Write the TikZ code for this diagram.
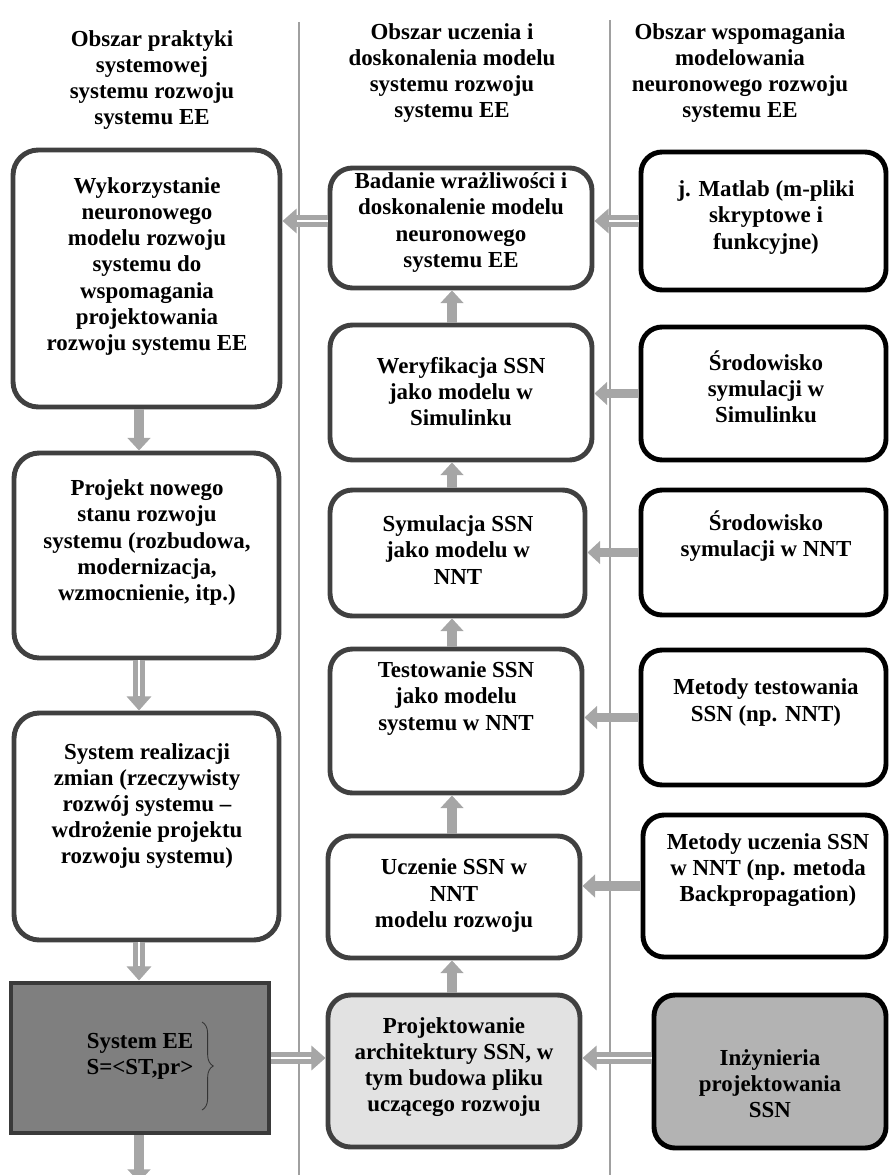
\documentclass[tikz,border=0pt]{standalone}
\usepackage{fontspec}
\setmainfont{Liberation Serif}
\usetikzlibrary{calc, fit, arrows.meta, decorations.pathreplacing}

\definecolor{ramka}{HTML}{404040}
\definecolor{strzalka}{HTML}{A6A6A6}
\definecolor{linia}{HTML}{A0A0A0}
\definecolor{sysfill}{HTML}{7F7F7F}
\definecolor{jasny}{HTML}{E2E2E2}
\definecolor{ciemny}{HTML}{B3B3B3}

\tikzset{
    opis/.style={align=center, font=\fontsize{16.3}{18.6}\selectfont\bfseries, inner sep=0pt},
    blok/.style={draw=ramka, line width=3.5pt, fill=white, rounded corners=18pt, inner sep=0pt},
    blokm/.style={blok, rounded corners=16pt},
    narz/.style={draw=black, line width=3.5pt, fill=white, rounded corners=15pt, inner sep=0pt},
    sysblok/.style={draw=ramka!90!black, line width=3.5pt, fill=sysfill, inner sep=0pt},
    strz/.style={draw=strzalka, line width=7pt, -{Triangle[width=16pt, length=9pt]}},
    dstrz/.style={draw=strzalka, line width=8.5pt, -{Triangle[width=17pt, length=10pt]},
        postaction={draw=white, line width=2.1pt, -, shorten >=10pt}},
}

\begin{document}
\begin{tikzpicture}[x=0.025cm, y=-0.025cm]
    \useasboundingbox (0, 0) rectangle (888, 1175);
    \coordinate (lx) at (139, 0); % oś strzałek lewej kolumny
    \coordinate (mx) at (452, 0); % oś strzałek środkowej kolumny
    \coordinate (wyj) at (139, 1182);

    % linie podziału obszarów
    \draw [linia, line width=0.8pt] (299, 22) -- (299, 1175);
    \draw [linia, line width=0.8pt] (610, 20) -- (610, 1175);

    % nagłówki
    \node [opis] (h1) at (152, 80) {Obszar praktyki\\systemowej\\systemu rozwoju\\systemu EE};
    \node [opis] (h2) at (452, 73) {Obszar uczenia i\\doskonalenia modelu\\systemu rozwoju\\systemu EE};
    \node [opis] (h3) at (740, 73) {Obszar wspomagania\\modelowania\\neuronowego rozwoju\\systemu EE};

    % obszar praktyki
    \node [blok, fit={(13, 150) (280, 407)}] (b1) {};
    \node [opis] (b1-t) at (147, 266.5) {Wykorzystanie\\neuronowego\\modelu rozwoju\\systemu do\\wspomagania\\projektowania\\rozwoju systemu EE};
    \node [blok, fit={(14, 453) (279, 658)}] (b2) {};
    \node [opis] (b2-t) at (147, 542.5) {Projekt nowego\\stanu rozwoju\\systemu (rozbudowa,\\modernizacja,\\wzmocnienie, itp.)};
    \node [blok, fit={(14, 713) (279, 940)}] (b3) {};
    \node [opis] (b3-t) at (147, 806) {System realizacji\\zmian (rzeczywisty\\rozwój systemu –\\wdrożenie projektu\\rozwoju systemu)};
    \node [sysblok, fit={(11, 983) (269, 1133)}] (sys) {};
    \node [opis] (sys-t) at (140, 1056) {System EE\\S=<ST,pr>};
    \draw [decorate, decoration={brace, amplitude=8pt}, line width=0.6pt, black!80] (202, 1022) -- (202, 1110);

    % obszar uczenia
    \node [blokm, fit={(330, 168) (592, 288)}] (m1) {};
    \node [opis] (m1-t) at (461, 222.5) {Badanie wrażliwości i\\doskonalenie modelu\\neuronowego\\systemu EE};
    \node [blokm, fit={(330, 325) (592, 460)}] (m2) {};
    \node [opis] (m2-t) at (461, 391.5) {Weryfikacja SSN\\jako modelu w\\Simulinku};
    \node [blokm, fit={(330, 490) (585, 616)}] (m3) {};
    \node [opis] (m3-t) at (458, 550) {Symulacja SSN\\jako modelu w\\NNT};
    \node [blokm, fit={(330, 649) (582, 793)}] (m4) {};
    \node [opis] (m4-t) at (456, 698.5) {Testowanie SSN\\jako modelu\\systemu w NNT};
    \node [blokm, fit={(328, 836) (580, 958)}] (m5) {};
    \node [opis] (m5-t) at (454, 895.5) {Uczenie SSN w\\NNT\\modelu rozwoju};
    \node [blokm, fill=jasny, fit={(328, 995) (580, 1147)}] (m6) {};
    \node [opis] (m6-t) at (454, 1067) {Projektowanie\\architektury SSN, w\\tym budowa pliku\\uczącego rozwoju};

    % obszar wspomagania
    \node [narz, fit={(641, 152) (886, 290)}] (r1) {};
    \node [opis] (r1-t) at (766, 217.5) {j. Matlab (m-pliki\\skryptowe i\\funkcyjne)};
    \node [narz, fit={(641, 327) (886, 460)}] (r2) {};
    \node [opis] (r2-t) at (766, 386.5) {Środowisko\\symulacji w\\Simulinku};
    \node [narz, fit={(641, 490) (886, 615)}] (r3) {};
    \node [opis] (r3-t) at (766, 536) {Środowisko\\symulacji w NNT};
    \node [narz, fit={(641, 650) (886, 785)}] (r4) {};
    \node [opis] (r4-t) at (766, 702.5) {Metody testowania\\SSN (np. NNT)};
    \node [narz, fit={(643, 815) (886, 957)}] (r5) {};
    \node [opis] (r5-t) at (768, 870) {Metody uczenia SSN\\w NNT (np. metoda\\Backpropagation)};
    \node [narz, fill=ciemny, fit={(654, 995) (886, 1148)}] (r6) {};
    \node [opis] (r6-t) at (770, 1083.5) {Inżynieria\\projektowania\\SSN};

    % strzałki w poziomie
    \draw [dstrz] (r1.west) -- (m1.east |- r1.west);
    \draw [dstrz] (m1.west |- r1.west) -- (b1.east |- r1.west);
    \draw [strz] (r2.west) -- (m2.east |- r2.west);
    \draw [strz] (r3.west) -- (m3.east |- r3.west);
    \draw [strz] (r4.west) -- (m4.east |- r4.west);
    \draw [strz] (r5.west) -- (m5.east |- r5.west);
    \draw [dstrz] (sys.east) -- (m6.west |- sys.east);
    \draw [dstrz] (r6.west |- sys.east) -- (m6.east |- sys.east);

    % strzałki w pionie
    \draw [strz] (m2.north -| mx) -- (m1.south -| mx);
    \draw [strz] (m3.north -| mx) -- (m2.south -| mx);
    \draw [strz] (m4.north -| mx) -- (m3.south -| mx);
    \draw [strz] (m5.north -| mx) -- (m4.south -| mx);
    \draw [strz] (m6.north -| mx) -- (m5.south -| mx);
    \draw [strz] (b1.south -| lx) -- (b2.north -| lx);
    \draw [dstrz] (b2.south -| lx) -- (b3.north -| lx);
    \draw [dstrz] (b3.south -| lx) -- (sys.north -| lx);
    \draw [strz] (sys.south -| lx) -- (wyj);
\end{tikzpicture}
\end{document}
